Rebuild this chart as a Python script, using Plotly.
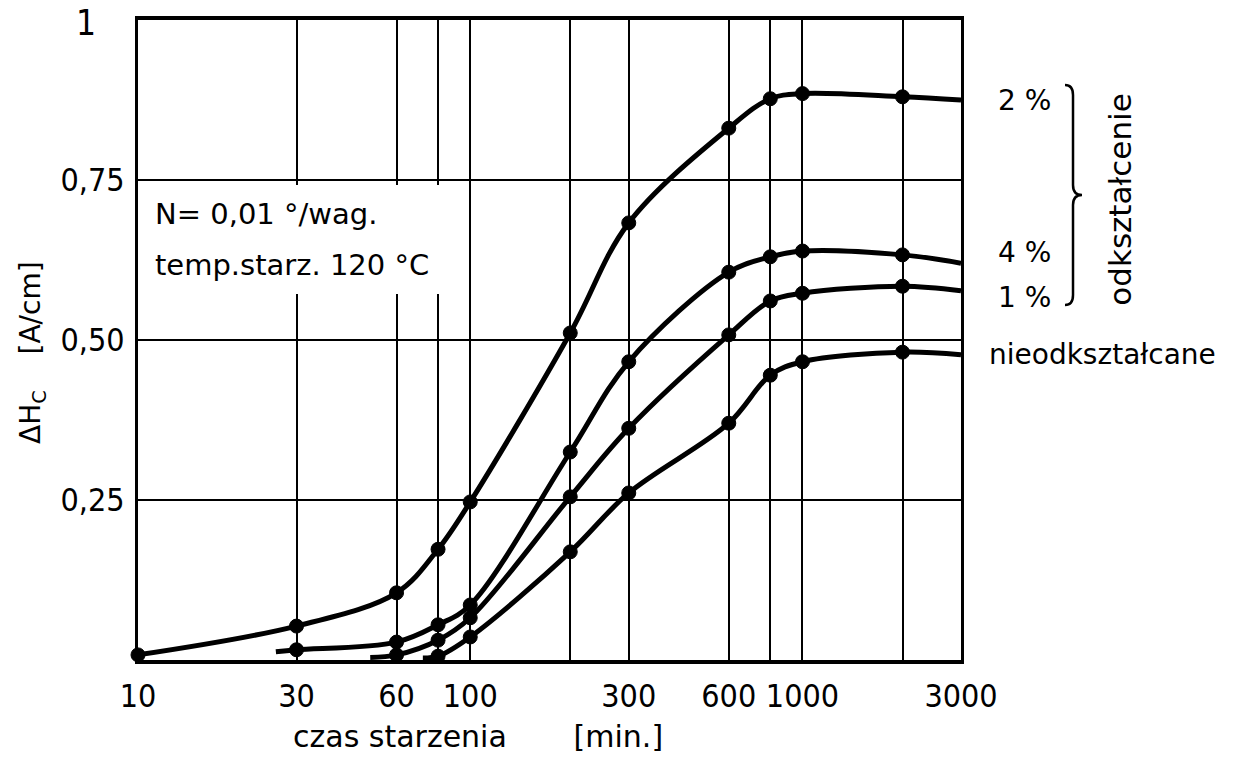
import plotly.graph_objects as go

# ---- data ----
t_2 = [10, 30, 60, 80, 100, 200, 300, 600, 800, 1000, 2000, 3000]
dh_2 = [0.008, 0.053, 0.105, 0.173, 0.247, 0.511, 0.683, 0.831, 0.877, 0.885, 0.880, 0.875]

t_4 = [26, 30, 60, 80, 100, 200, 300, 600, 800, 1000, 2000, 3000]
dh_4 = [0.013, 0.016, 0.028, 0.055, 0.086, 0.325, 0.466, 0.606, 0.630, 0.639, 0.633, 0.620]

t_1 = [50, 60, 80, 100, 200, 300, 600, 800, 1000, 2000, 3000]
dh_1 = [0.004, 0.008, 0.031, 0.066, 0.255, 0.362, 0.508, 0.561, 0.573, 0.584, 0.577]

t_0 = [72, 80, 100, 200, 300, 600, 800, 1000, 2000, 3000]
dh_0 = [0.003, 0.006, 0.036, 0.169, 0.261, 0.370, 0.445, 0.466, 0.481, 0.477]

series_names = ["2 %", "4 %", "1 %", "nieodkształcane"]
label_y = [0.875, 0.6375, 0.567, 0.477]

x_tickvals = [10, 30, 60, 100, 300, 600, 1000, 3000]
x_ticktext = ["10", "30", "60", "100", "300", "600", "1000", "3000"]
x_minor_grid = [80, 200, 800, 2000]
y_tickvals = [0.25, 0.5, 0.75]
y_ticktext = ["0,25", "0,50", "0,75"]

FONT = "DejaVu Sans, Liberation Sans, sans-serif"
NUMFONT = "DejaVu Sans Condensed, Liberation Sans Narrow, Liberation Sans, sans-serif"

fig = go.Figure()

def add_curve(t, dh, name, first_marker=True):
    sizes = [14] * len(t)
    if not first_marker:
        sizes[0] = 0
    fig.add_trace(go.Scatter(
        x=t, y=dh, mode="lines+markers", name=name, opacity=1,
        line=dict(color="black", width=5, shape="spline", smoothing=1.0),
        marker=dict(color="black", size=sizes, opacity=1,
                    line=dict(width=1, color="black")),
        showlegend=False, cliponaxis=False,
    ))

add_curve(t_2, dh_2, series_names[0], True)
add_curve(t_4, dh_4, series_names[1], False)
add_curve(t_1, dh_1, series_names[2], False)
add_curve(t_0, dh_0, series_names[3], False)

fig.update_xaxes(
    type="log", range=[1, 3.4771],
    tickvals=x_tickvals, ticktext=x_ticktext, tickangle=0,
    showgrid=True, gridcolor="black", gridwidth=2,
    minor=dict(tickvals=x_minor_grid, showgrid=True, gridcolor="black", gridwidth=2, ticks=""),
    showline=True, linecolor="black", linewidth=4, mirror=True,
    ticks="", tickfont=dict(family=NUMFONT, size=32, color="black"),
    ticklabelstandoff=5, zeroline=False, automargin=False,
)
fig.update_yaxes(
    range=[0, 1],
    tickvals=y_tickvals, ticktext=y_ticktext, tickangle=0,
    showgrid=True, gridcolor="black", gridwidth=2,
    showline=True, linecolor="black", linewidth=3, mirror=True,
    ticks="", ticklabelstandoff=4,
    tickfont=dict(family=NUMFONT, size=32, color="black"),
    zeroline=False, automargin=False,
)

annotations = []
# top "1" label of y axis
annotations.append(dict(text="1", xref="paper", yref="y", x=0, y=1.0,
                        xanchor="right", yanchor="middle", xshift=-40, yshift=-3,
                        showarrow=False, font=dict(family=NUMFONT, size=35, color="black")))
# axis titles
annotations.append(dict(text="czas starzenia\u00a0\u00a0\u00a0\u00a0\u00a0\u00a0\u00a0[min.]",
                        xref="paper", yref="paper", x=0.413, y=-0.120,
                        xanchor="center", yanchor="middle", showarrow=False,
                        font=dict(family=FONT, size=30, color="black")))
annotations.append(dict(text="\u0394H<sub>C</sub>\u00a0\u00a0\u00a0\u00a0[A/cm]",
                        xref="paper", yref="paper", x=-0.129, y=0.481,
                        xanchor="center", yanchor="middle", textangle=-90, showarrow=False,
                        font=dict(family=FONT, size=28, color="black")))
# condition text (two lines)
annotations.append(dict(text="N= 0,01 °/wag.", xref="paper", yref="y", x=0.018, y=0.697,
                        xanchor="left", yanchor="middle", showarrow=False,
                        font=dict(family=FONT, size=29, color="black")))
annotations.append(dict(text="temp.starz. 120 °C", xref="paper", yref="y", x=0.018, y=0.617,
                        xanchor="left", yanchor="middle", showarrow=False,
                        font=dict(family=FONT, size=29, color="black")))
# right labels
for name, ly in zip(series_names, label_y):
    xpos = 1.032 if name == "nieodkształcane" else 1.043
    annotations.append(dict(text=name, xref="paper", yref="y", x=xpos, y=ly,
                            xanchor="left", yanchor="middle", showarrow=False,
                            font=dict(family=FONT, size=28, color="black")))
annotations.append(dict(text="odkształcenie", xref="paper", yref="y", x=1.193, y=0.719,
                        xanchor="center", yanchor="middle", textangle=-90, showarrow=False,
                        font=dict(family=FONT, size=31, color="black")))

fig.update_layout(
    width=1242, height=757,
    margin=dict(l=138, r=281, t=20, b=97),
    paper_bgcolor="white", plot_bgcolor="white",
    annotations=annotations,
    shapes=[
        dict(type="rect", xref="paper", yref="y", x0=0.004, x1=0.375, y0=0.572, y1=0.742,
             fillcolor="white", line=dict(width=0), layer="above"),
        dict(type="path", xref="paper", yref="y",
             path="M 1.1264,0.8984 Q 1.1361,0.8984 1.1361,0.8828 L 1.1361,0.7422 "
                  "Q 1.1361,0.7266 1.147,0.7266 Q 1.1361,0.7266 1.1361,0.7109 "
                  "L 1.1361,0.5703 Q 1.1361,0.5547 1.1264,0.5547",
             line=dict(color="black", width=2.5)),
    ],
)

fig.write_html("out.html", config={"displayModeBar": False},
               post_script="document.body.style.margin='0';")
